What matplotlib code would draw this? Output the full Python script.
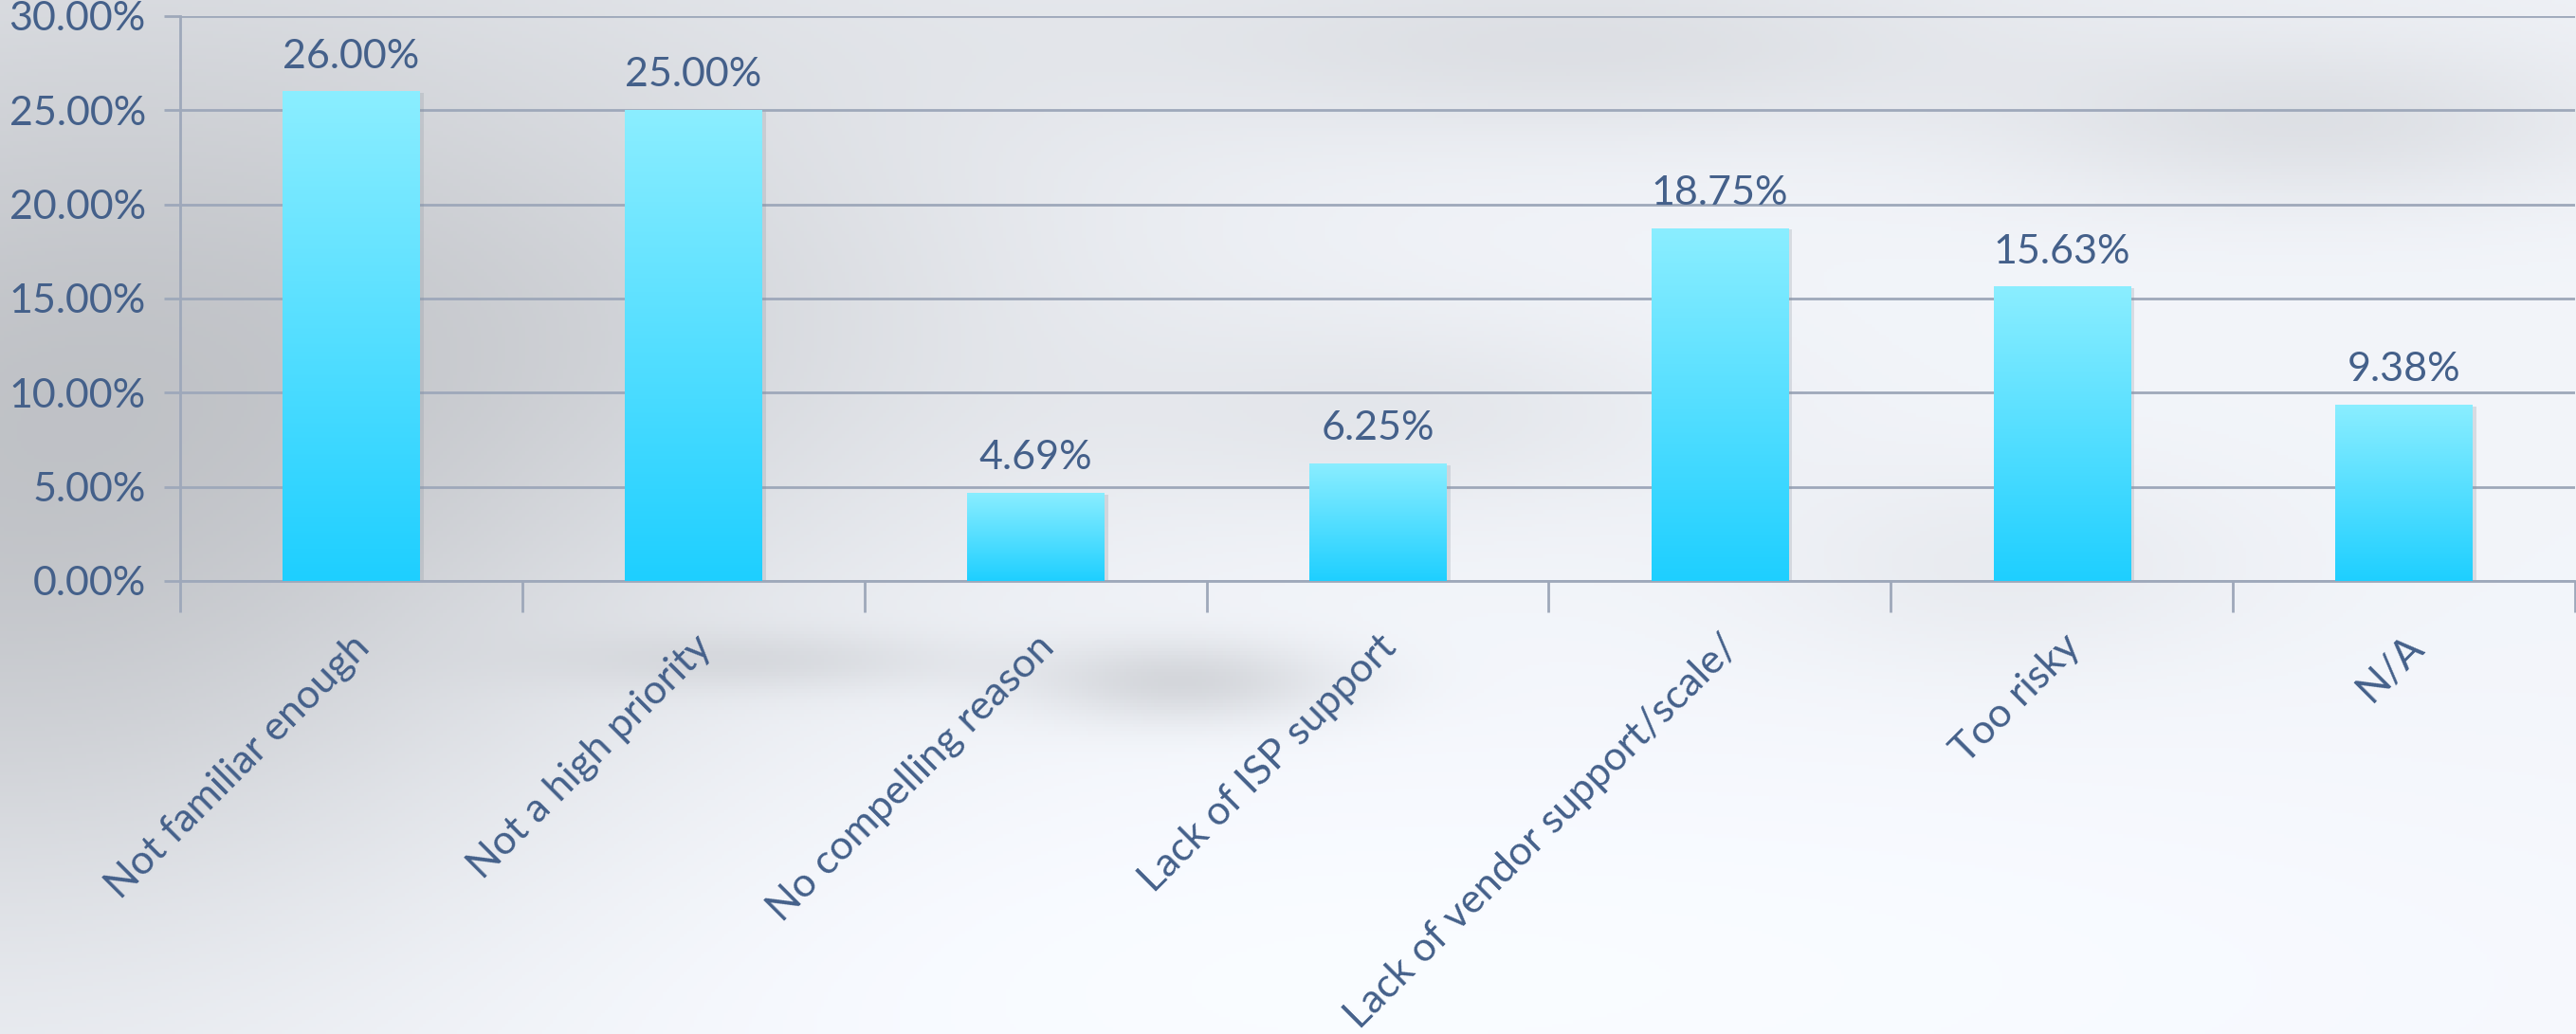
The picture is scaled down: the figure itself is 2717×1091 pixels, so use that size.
import numpy as np
import matplotlib
matplotlib.use("Agg")
import matplotlib.pyplot as plt
from matplotlib.colors import LinearSegmentedColormap
from matplotlib.ticker import FuncFormatter, FixedLocator

categories = ["Not familiar enough", "Not a high priority", "No compelling reason",
              "Lack of ISP support", "Lack of vendor support/scale/", "Too risky", "N/A"]
values = [26.00, 25.00, 4.69, 6.25, 18.75, 15.63, 9.38]
y_ticks = [0, 5, 10, 15, 20, 25, 30]

TEXT = "#44608A"
GRID = "#9EA8BA"
plt.rcParams['font.family'] = ['Lato', 'DejaVu Sans']

W, H = 2717, 1091
fig = plt.figure(figsize=(W / 100, H / 100), dpi=100)

# background texture (soft blurred gray blobs)
bg = fig.add_axes([0, 0, 1, 1], zorder=-10)
bg.set_axis_off()
yy, xx = np.mgrid[0:1:300j, 0:1:750j]
shade = np.full_like(xx, 0.965)
def blob(cx, cy, sx, sy, amp):
    return amp * np.exp(-(((xx - cx) / sx) ** 2 + ((yy - cy) / sy) ** 2))
shade -= blob(0.0, 0.45, 0.24, 0.50, 0.19)
shade -= blob(0.25, 0.30, 0.20, 0.25, 0.07)
shade -= blob(0.30, 0.64, 0.08, 0.03, 0.07)
shade -= blob(0.46, 0.66, 0.06, 0.04, 0.12)
shade -= blob(0.55, 0.40, 0.12, 0.10, 0.05)
shade -= blob(0.62, 0.05, 0.15, 0.08, 0.05)
shade -= blob(0.90, 0.12, 0.12, 0.08, 0.07)
shade -= blob(0.78, 0.55, 0.10, 0.10, 0.04)
shade -= blob(0.5, 0.0, 0.5, 0.15, 0.04)
shade += blob(0.5, 0.95, 0.6, 0.25, 0.03)
shade = np.clip(shade, 0, 1)
rgb = np.stack([shade * 0.985, shade * 0.99, shade], axis=-1)
rgb = np.clip(rgb + np.array([0.0, 0.005, 0.015]), 0, 1)
bg.imshow(rgb, extent=[0, 1, 0, 1], aspect='auto', origin='upper')

ax = fig.add_axes([190 / W, 1 - 613 / H, (2716 - 190) / W, (613 - 17) / H])
ax.patch.set_alpha(0)
x = np.arange(len(categories))
bars = ax.bar(x, values, width=0.40, color='none', edgecolor='none', zorder=3)

cmap = LinearSegmentedColormap.from_list("bar", ["#1ECFFF", "#8BEEFF"])
grad = np.linspace(0, 1, 256).reshape(-1, 1)
for b, v in zip(bars, values):
    x0 = b.get_x()
    w = b.get_width()
    # soft shadow
    ax.bar(x0 + w / 2 + 0.012, v, width=w, bottom=-0.1, color='#8a94a0', alpha=0.25,
           edgecolor='none', zorder=2)
    im = ax.imshow(grad, cmap=cmap, extent=[x0, x0 + w, 0, v], origin='lower',
                   aspect='auto', zorder=3)
    im.set_clip_path(b)
    ax.text(b.get_x() + w / 2, v + 0.9, f"{v:.2f}%", ha='center', va='bottom',
            fontsize=31, color=TEXT, zorder=5)

ax.set_xlim(-0.5, len(categories) - 0.5)
ax.set_ylim(0, 30)
ax.set_yticks(y_ticks)
ax.yaxis.set_major_formatter(FuncFormatter(lambda v, p: f"{v:.2f}%"))
ax.grid(axis='y', color=GRID, linewidth=2, zorder=1)
ax.set_axisbelow(True)
for s in ['top', 'right']:
    ax.spines[s].set_visible(False)
ax.spines['left'].set_color(GRID)
ax.spines['left'].set_linewidth(2)
ax.spines['bottom'].set_color(GRID)
ax.spines['bottom'].set_linewidth(2)
ax.tick_params(axis='y', length=12, width=2, color=GRID, labelsize=31, labelcolor=TEXT, pad=14)
ax.xaxis.set_major_locator(FixedLocator(np.arange(len(categories) + 1) - 0.5))
ax.xaxis.set_minor_locator(FixedLocator(x))
ax.tick_params(axis='x', which='major', length=24, width=2, color=GRID, labelbottom=False)
ax.tick_params(axis='x', which='minor', length=0, labelsize=31, labelcolor=TEXT, pad=36)
ax.set_xticks(x, minor=True)
ax.set_xticklabels(categories, minor=True, rotation=45, ha='right', va='top',
                   rotation_mode='anchor')

fig.savefig("out.png", dpi=100)
